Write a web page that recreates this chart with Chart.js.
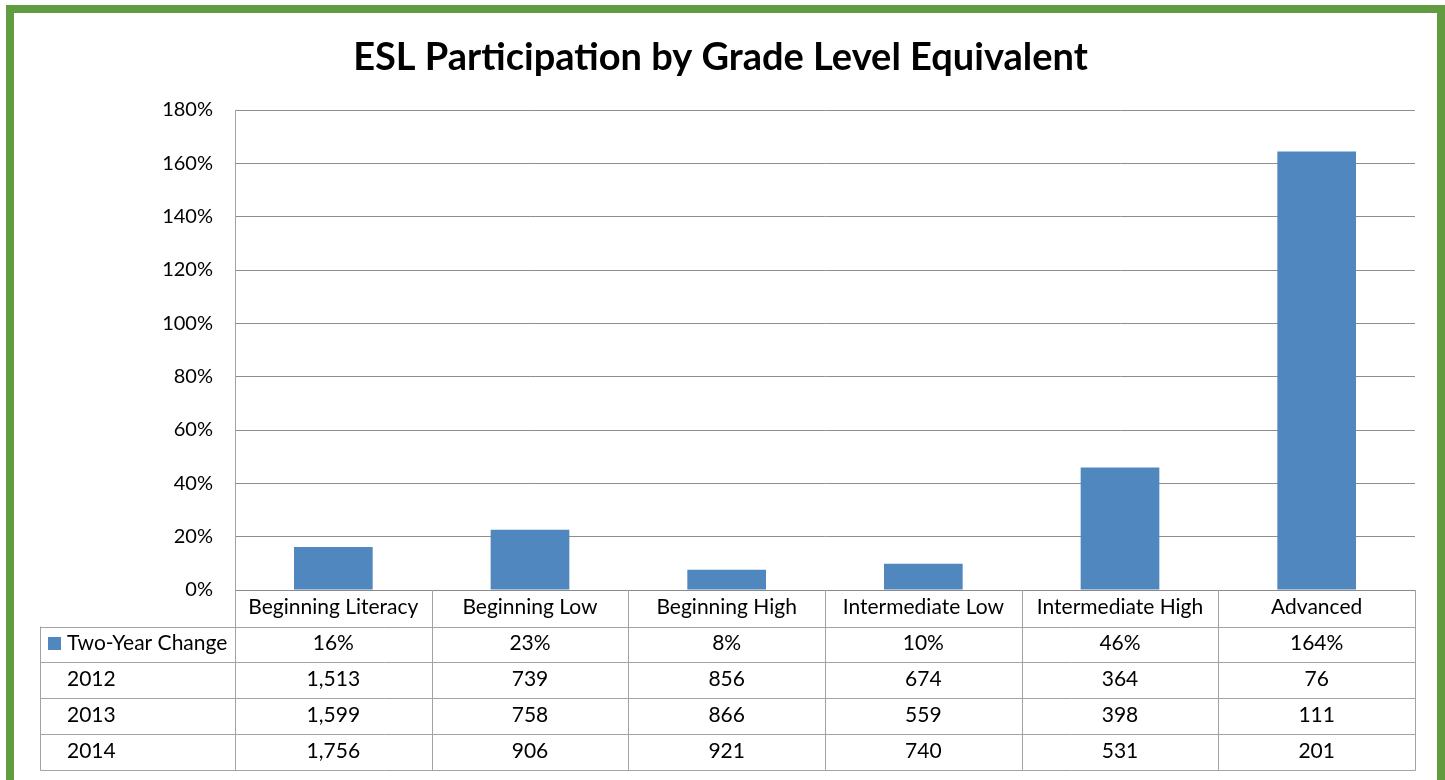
<!doctype html>
<html lang="en">
  <head>
    <meta charset="utf-8">
    <title>ESL Participation by Grade Level Equivalent</title>
    <style>
      * {
        margin: 0;
        padding: 0;
      }
      body {
        background: white;
        width: 1445px;
        height: 780px;
        overflow: hidden;
        position: relative;
      }
      .frame {
        position: absolute;
        left: 6px;
        top: 5px;
        width: 1423px;
        height: 820px;
        border: 8px solid #629b40;
      }
      #myChart {
        position: absolute;
        left: 0;
        top: 0;
      }
    </style>
  </head>
  <body>
    <div class="frame"></div>
    <canvas id="myChart" width="1445" height="780"></canvas>
    <script src="https://cdn.jsdelivr.net/npm/chart.js/dist/chart.umd.min.js"></script>
    <script>
    // data
    const categories = ['Beginning Literacy', 'Beginning Low', 'Beginning High', 'Intermediate Low', 'Intermediate High', 'Advanced'];
    const twoYearChange = [16.1, 22.6, 7.6, 9.8, 45.9, 164.4];
    const count2012 = [1513, 739, 856, 674, 364, 76];
    const count2013 = [1599, 758, 866, 559, 398, 111];
    const count2014 = [1756, 906, 921, 740, 531, 201];
    const yTicks = [0, 20, 40, 60, 80, 100, 120, 140, 160, 180];

    const FONT = 'Lato';
    const BAR = '#4f87be';
    const LINE = '#a3a3a3';

    const tableRows = [
      { label: 'Two-Year Change', swatch: true, cells: twoYearChange.map(v => Math.round(v) + '%') },
      { label: '2012', cells: count2012.map(v => v.toLocaleString('en-US')) },
      { label: '2013', cells: count2013.map(v => v.toLocaleString('en-US')) },
      { label: '2014', cells: count2014.map(v => v.toLocaleString('en-US')) }
    ];

    // data table under the plot, columns follow the category scale
    const dataTable = {
      id: 'dataTable',
      afterDraw(chart) {
        const ctx = chart.ctx;
        const x = chart.scales.x;
        const area = chart.chartArea;
        const rowH = 35.8;
        const headH = x.height;
        const tableLeft = 40.5;
        const n = categories.length;
        const step = (area.right - area.left) / n;
        const top = Math.round(area.bottom + headH) + 0.5;
        const bottom = top + rowH * tableRows.length;

        ctx.save();
        ctx.strokeStyle = LINE;
        ctx.lineWidth = 1;
        ctx.beginPath();
        // horizontal row lines
        for (let r = 0; r <= tableRows.length; r++) {
          const y = Math.round(top + r * rowH) + 0.5;
          ctx.moveTo(tableLeft, y);
          ctx.lineTo(area.right + 0.5, y);
        }
        // left edge of the label column
        ctx.moveTo(tableLeft, top);
        ctx.lineTo(tableLeft, Math.round(bottom) + 0.5);
        // column lines
        for (let i = 0; i <= n; i++) {
          const cx = Math.round(area.left + i * step) + 0.5;
          ctx.moveTo(cx, i === 0 ? area.top : area.bottom);
          ctx.lineTo(cx, Math.round(bottom) + 0.5);
        }
        ctx.stroke();

        ctx.fillStyle = '#000';
        ctx.font = '21px ' + FONT;
        ctx.textBaseline = 'middle';
        tableRows.forEach((row, r) => {
          const cy = top + r * rowH + rowH / 2 - 1;
          ctx.textAlign = 'left';
          if (row.swatch) {
            ctx.fillStyle = BAR;
            ctx.fillRect(48, Math.round(cy - 6.5), 13, 13);
            ctx.fillStyle = '#000';
          }
          ctx.fillText(row.label, 67, cy);
          ctx.textAlign = 'center';
          row.cells.forEach((txt, i) => {
            ctx.fillText(txt, x.getPixelForValue(i), cy);
          });
        });
        ctx.restore();
      }
    };

    const data = {
      labels: categories,
      datasets: [{
        label: 'Two-Year Change',
        data: twoYearChange,
        backgroundColor: BAR,
        borderWidth: 0,
        barPercentage: 0.4,
        categoryPercentage: 1
      }]
    };

    const config = {
      type: 'bar',
      data,
      options: {
        responsive: false,
        animation: false,
        layout: {
          padding: { left: 26, right: 30, top: 0, bottom: 154 }
        },
        plugins: {
          legend: { display: false },
          tooltip: { enabled: false },
          title: {
            display: true,
            text: 'ESL Participation by Grade Level Equivalent',
            color: '#000',
            font: { family: FONT, size: 38, weight: 'bold', lineHeight: 1.2 },
            padding: { top: 35, bottom: 29.4 }
          }
        },
        scales: {
          x: {
            afterFit(scale) { scale.height = 36; },
            grid: { display: false },
            border: { display: true, color: '#8a8a8a', width: 1 },
            ticks: {
              color: '#000',
              font: { family: FONT, size: 21 },
              padding: -3,
              maxRotation: 0,
              autoSkip: false
            }
          },
          y: {
            min: 0,
            max: 180,
            afterFit(scale) { scale.width = 209; },
            afterBuildTicks(scale) { scale.ticks = yTicks.map(v => ({ value: v })); },
            grid: { color: '#8e8e8e', drawTicks: false },
            border: { display: true, color: LINE, width: 1 },
            ticks: {
              color: '#000',
              font: { family: FONT, size: 20 },
              padding: 22,
              callback: v => v + '%'
            }
          }
        }
      },
      plugins: [dataTable]
    };

    const myChart = new Chart(document.getElementById('myChart'), config);
    </script>
  </body>
</html>
